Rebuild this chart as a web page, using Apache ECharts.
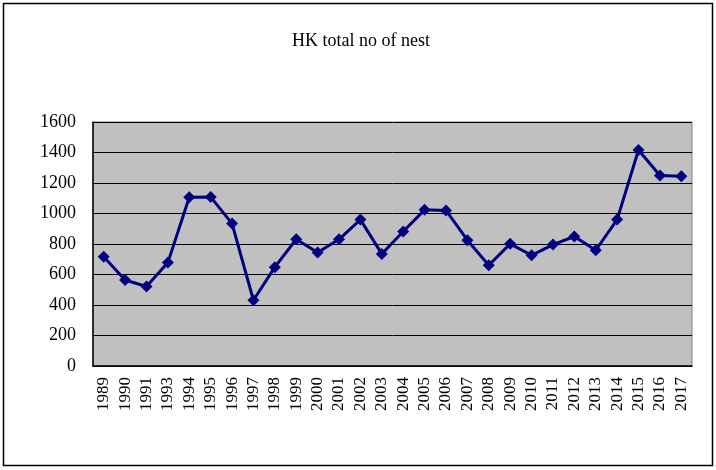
<!DOCTYPE html>
<html><head><meta charset="utf-8">
<script src="https://cdn.jsdelivr.net/npm/echarts@6/dist/echarts.min.js"></script>
<style>html,body{margin:0;padding:0;background:#fff}#c{width:716px;height:470px}</style>
</head><body><div id="c"></div>
<script>
const years = ['1989','1990','1991','1993','1994','1995','1996','1997','1998','1999','2000','2001','2002','2003','2004','2005','2006','2007','2008','2009','2010','2011','2012','2013','2014','2015','2016','2017'];
const nests = [716,564,521,678,1107,1109,934,431,648,831,744,831,960,735,882,1024,1020,825,661,801,726,796,849,759,960,1416,1249,1245];
const titleText = 'HK total no of nest';
const FONT = 'Liberation Serif';
const chart = echarts.init(document.getElementById('c'), null, {renderer:'canvas'});
chart.setOption({
  animation:false,
  backgroundColor:'#fff',
  title:{text:titleText,left:356,top:27,textAlign:'center',textStyle:{fontFamily:FONT,fontSize:18,fontWeight:'normal',color:'#000'}},
  graphic:[{type:'rect',shape:{x:3.5,y:3.5,width:709,height:462},style:{fill:'none',stroke:'#000',lineWidth:1.5},silent:true}],
  grid:{left:93,right:24,top:122,bottom:104,show:true,backgroundColor:'#c0c0c0',borderColor:'#808080',borderWidth:1},
  xAxis:{type:'category',data:years,boundaryGap:true,
    axisLine:{lineStyle:{color:'#000',width:1.5}},
    axisTick:{inside:true,length:4,lineStyle:{color:'#000'}},
    axisLabel:{rotate:90,margin:11,fontFamily:FONT,fontSize:17,color:'#000',interval:0}},
  yAxis:{type:'value',min:0,max:1600,interval:200,
    axisLine:{show:true,lineStyle:{color:'#000',width:1.5}},
    axisTick:{show:false},
    splitLine:{lineStyle:{color:'#000',width:1}},
    axisLabel:{margin:17,fontFamily:FONT,fontSize:18,color:'#000',formatter:v=>String(v)}},
  series:[{type:'line',data:nests,symbol:'diamond',symbolSize:12,
    lineStyle:{color:'#000080',width:3},itemStyle:{color:'#000080'}}]
});
</script></body></html>
